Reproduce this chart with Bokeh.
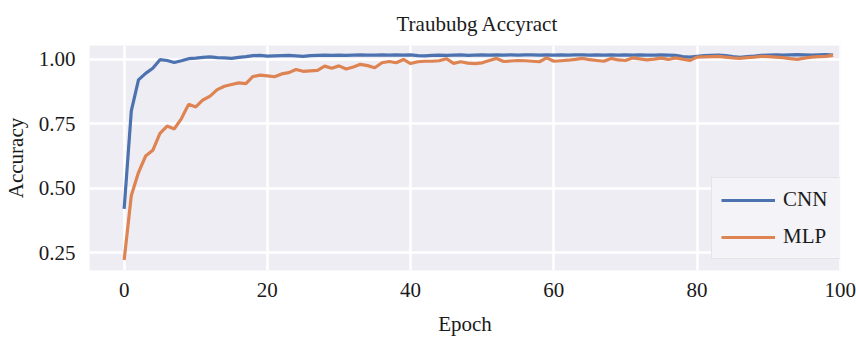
from bokeh.plotting import figure
from bokeh.models import FixedTicker, NumeralTickFormatter, Range1d, Legend, LegendItem
from bokeh.embed import file_html
from bokeh.resources import INLINE

epochs = list(range(100))
cnn = [0.42, 0.80, 0.92, 0.945, 0.965, 0.998, 0.995, 0.987, 0.994, 1.002,
       1.004, 1.007, 1.009, 1.006, 1.005, 1.003, 1.007, 1.010, 1.014, 1.015,
       1.012, 1.013, 1.014, 1.015, 1.013, 1.011, 1.014, 1.015, 1.016, 1.015,
       1.016, 1.015, 1.016, 1.017, 1.016, 1.016, 1.017, 1.016, 1.017, 1.016,
       1.017, 1.014, 1.013, 1.015, 1.016, 1.015, 1.016, 1.017, 1.015, 1.016,
       1.017, 1.016, 1.017, 1.016, 1.017, 1.016, 1.017, 1.017, 1.016, 1.017,
       1.016, 1.017, 1.016, 1.017, 1.017, 1.016, 1.017, 1.016, 1.017, 1.016,
       1.017, 1.016, 1.017, 1.016, 1.016, 1.017, 1.016, 1.015, 1.010, 1.008,
       1.011, 1.014, 1.015, 1.016, 1.014, 1.010, 1.007, 1.010, 1.012, 1.015,
       1.016, 1.017, 1.016, 1.017, 1.018, 1.017, 1.016, 1.017, 1.018, 1.016]
mlp = [0.222, 0.472, 0.561, 0.625, 0.647, 0.713, 0.741, 0.730, 0.770, 0.825,
       0.815, 0.842, 0.857, 0.882, 0.895, 0.902, 0.908, 0.905, 0.933, 0.938,
       0.935, 0.932, 0.943, 0.948, 0.960, 0.953, 0.955, 0.957, 0.973, 0.965,
       0.974, 0.962, 0.970, 0.980, 0.975, 0.967, 0.986, 0.991, 0.986, 0.999,
       0.983, 0.990, 0.992, 0.992, 0.994, 1.002, 0.984, 0.990, 0.985, 0.983,
       0.986, 0.995, 1.003, 0.991, 0.993, 0.995, 0.994, 0.992, 0.990, 1.005,
       0.992, 0.994, 0.996, 0.999, 1.003, 0.998, 0.995, 0.992, 1.003, 0.997,
       0.995, 1.005, 1.001, 0.997, 1.000, 1.004, 0.999, 1.005, 1.000, 0.995,
       1.008, 1.009, 1.010, 1.011, 1.008, 1.005, 1.003, 1.006, 1.008, 1.011,
       1.010, 1.008, 1.006, 1.002, 0.999, 1.004, 1.008, 1.010, 1.011, 1.015]
x_ticks = [0, 20, 40, 60, 80, 100]
y_ticks = [0.25, 0.50, 0.75, 1.00]

FONT = "Liberation Serif"
TXT = "#1a1a1a"

p = figure(width=856, height=338, output_backend="svg", toolbar_location=None,
           title="Traububg Accyract",
           x_range=Range1d(-4.84, 100.04), y_range=Range1d(0.1815, 1.053),
           min_border_left=88, min_border_right=16, min_border_top=44, min_border_bottom=65)
p.background_fill_color = "#EFEDF4"
p.border_fill_color = "white"
p.outline_line_color = None

p.title.text_font = FONT
p.title.text_font_size = "21px"
p.title.text_font_style = "normal"
p.title.text_color = TXT
p.title.align = "left"
p.title.offset = 307
p.title.standoff = 19

for ax in (p.xaxis[0], p.yaxis[0]):
    ax.axis_line_color = None
    ax.major_tick_line_color = None
    ax.minor_tick_line_color = None
    ax.major_label_text_font = FONT
    ax.major_label_text_font_size = "21px"
    ax.major_label_text_color = TXT
    ax.axis_label_text_font = FONT
    ax.axis_label_text_font_size = "21px"
    ax.axis_label_text_font_style = "normal"
    ax.axis_label_text_color = TXT

p.xaxis.ticker = FixedTicker(ticks=x_ticks)
p.yaxis.ticker = FixedTicker(ticks=y_ticks)
p.yaxis.formatter = NumeralTickFormatter(format="0.00")
p.xaxis.axis_label = "Epoch"
p.yaxis.axis_label = "Accuracy"
p.xaxis.major_label_standoff = 6
p.xaxis.axis_label_standoff = 12
p.yaxis.major_label_standoff = 8
p.yaxis.axis_label_standoff = 8

p.xgrid.grid_line_color = "white"
p.ygrid.grid_line_color = "white"
p.xgrid.grid_line_width = 2.5
p.ygrid.grid_line_width = 2.5

r1 = p.line(epochs, cnn, line_color="#4C72B0", line_width=3.2)
r2 = p.line(epochs, mlp, line_color="#DD8452", line_width=3.2)

legend = Legend(items=[LegendItem(label="CNN", renderers=[r1]),
                       LegendItem(label="MLP", renderers=[r2])],
                location=(622, 11))
legend.label_text_font = FONT
legend.label_text_font_size = "21px"
legend.label_text_color = TXT
legend.glyph_width = 54
legend.glyph_height = 24
legend.label_height = 24
legend.label_width = 100
legend.spacing = 12
legend.padding = 9
legend.margin = 0
legend.label_standoff = 8
legend.border_line_color = "#d6d6d6"
legend.border_line_width = 1.2
legend.background_fill_color = "#F4F3F7"
legend.background_fill_alpha = 1.0
p.add_layout(legend)

open("out.html", "w").write(file_html(p, INLINE))
